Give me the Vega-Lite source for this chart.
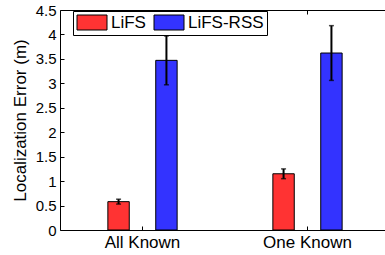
{
  "$schema": "https://vega.github.io/schema/vega-lite/v6.json",
  "width": 325,
  "height": 220,
  "autosize": "none",
  "padding": {"left": 60, "top": 10, "right": 0, "bottom": 25},
  "background": "white",
  "config": {
    "font": "Liberation Sans",
    "view": {"stroke": null},
    "axis": {"domainColor": "black", "tickColor": "black", "labelColor": "black", "titleColor": "black", "grid": false, "domainWidth": 1, "tickWidth": 1}
  },
  "data": {"values": [
    {"group": "All Known", "series": "LiFS", "value": 0.58, "low": 0.53, "high": 0.63},
    {"group": "All Known", "series": "LiFS-RSS", "value": 3.47, "low": 2.97, "high": 3.97},
    {"group": "One Known", "series": "LiFS", "value": 1.15, "low": 1.05, "high": 1.25},
    {"group": "One Known", "series": "LiFS-RSS", "value": 3.62, "low": 3.06, "high": 4.18}
  ]},
  "layer": [
    {
      "mark": {"type": "bar", "stroke": "black", "strokeWidth": 1, "opacity": 1},
      "encoding": {
        "x": {"field": "group", "type": "nominal", "sort": ["All Known", "One Known"],
          "scale": {"range": [0, 330], "paddingInner": 0, "paddingOuter": 0},
          "axis": {"title": null, "labelAngle": 0, "labelFontSize": 17, "tickSize": -4, "labelPadding": 8, "orient": "bottom"}},
        "xOffset": {"field": "series", "type": "nominal", "sort": ["LiFS", "LiFS-RSS"],
          "scale": {"paddingInner": 0.553, "paddingOuter": 1.03}},
        "y": {"field": "value", "type": "quantitative",
          "scale": {"domain": [0, 4.5], "nice": false},
          "axis": {"title": "Localization Error (m)", "titleFontSize": 17, "titleFontWeight": "normal", "titlePadding": 6,
            "values": [0, 0.5, 1, 1.5, 2, 2.5, 3, 3.5, 4, 4.5], "format": "~g", "labelFontSize": 15, "tickSize": -4, "labelPadding": 8}},
        "color": {"field": "series", "type": "nominal",
          "scale": {"domain": ["LiFS", "LiFS-RSS"], "range": ["#FF3333", "#3333FF"]},
          "legend": {"title": null, "orient": "none", "legendX": 13, "legendY": 1, "direction": "horizontal",
            "symbolType": "M-1,-1H3V1H-1Z", "symbolSize": 225, "symbolStrokeColor": "black", "symbolStrokeWidth": 1,
            "symbolOpacity": 1, "labelFontSize": 17, "labelColor": "black", "labelOffset": 18, "columnPadding": 6,
            "strokeColor": "black", "fillColor": "white", "padding": 3}}
      }
    },
    {
      "mark": {"type": "rule", "color": "black", "strokeWidth": 2},
      "encoding": {
        "x": {"field": "group", "type": "nominal", "sort": ["All Known", "One Known"], "axis": null},
        "xOffset": {"field": "series", "type": "nominal", "sort": ["LiFS", "LiFS-RSS"]},
        "y": {"field": "low", "type": "quantitative", "axis": null},
        "y2": {"field": "high"}
      }
    },
    {
      "mark": {"type": "tick", "color": "black", "size": 5, "thickness": 1.5, "orient": "horizontal"},
      "encoding": {
        "x": {"field": "group", "type": "nominal", "sort": ["All Known", "One Known"], "axis": null},
        "xOffset": {"field": "series", "type": "nominal", "sort": ["LiFS", "LiFS-RSS"]},
        "y": {"field": "low", "type": "quantitative", "axis": null}
      }
    },
    {
      "mark": {"type": "tick", "color": "black", "size": 5, "thickness": 1.5, "orient": "horizontal"},
      "encoding": {
        "x": {"field": "group", "type": "nominal", "sort": ["All Known", "One Known"], "axis": null},
        "xOffset": {"field": "series", "type": "nominal", "sort": ["LiFS", "LiFS-RSS"]},
        "y": {"field": "high", "type": "quantitative", "axis": null}
      }
    },
    {
      "mark": {"type": "rule", "opacity": 0},
      "encoding": {
        "x": {"field": "group", "type": "nominal", "sort": ["All Known", "One Known"],
          "axis": {"orient": "top", "title": null, "labels": false, "tickSize": -4}},
        "y": {"field": "low", "type": "quantitative", "axis": null}
      }
    }
  ],
  "resolve": {"axis": {"x": "independent", "y": "independent"}}
}
